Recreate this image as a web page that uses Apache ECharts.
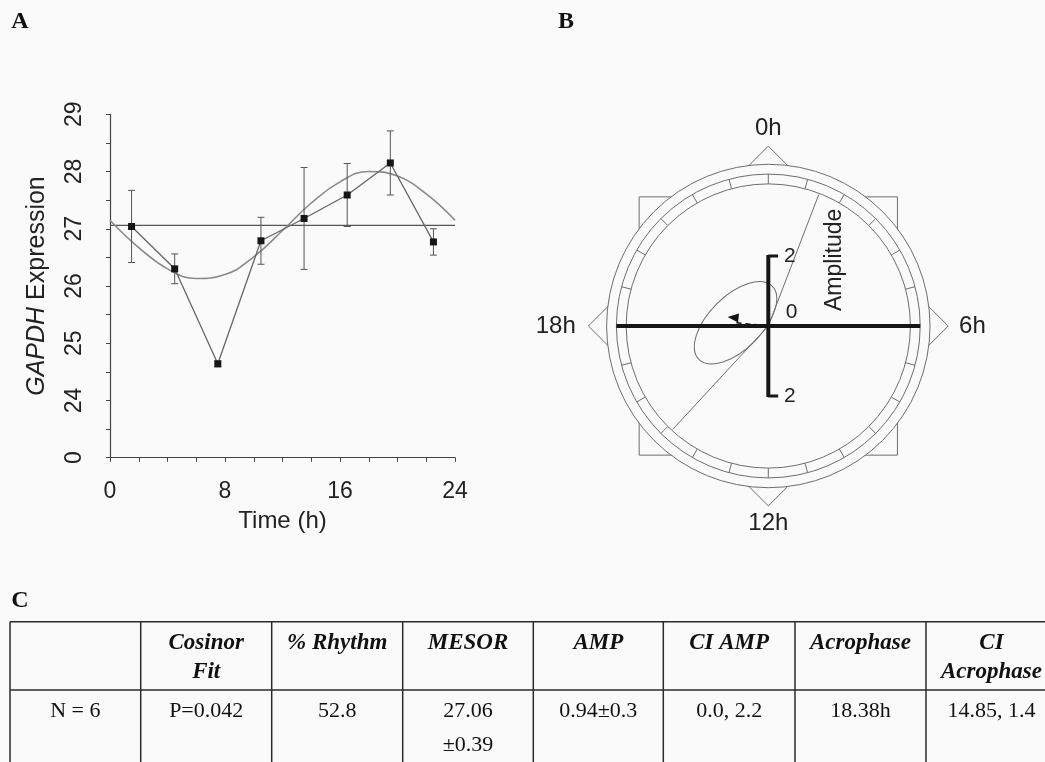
<!DOCTYPE html>
<html><head><meta charset="utf-8">
<script src="https://cdn.jsdelivr.net/npm/echarts@6/dist/echarts.min.js"></script>
<style>html,body{margin:0;padding:0;background:#fafafa}#c{width:1045px;height:762px}</style>
</head><body><div id="c"></div>
<script>
// ---------- Panel A data ----------
const timeHours = [1.5, 4.5, 7.5, 10.5, 13.5, 16.5, 19.5, 22.5];
const gapdhMean = [27.04, 26.30, 24.64, 26.79, 27.18, 27.59, 28.15, 26.77];
const gapdhErr  = [0.63, 0.26, 0.05, 0.41, 0.89, 0.55, 0.56, 0.23];
const fitHours  = [0, 2, 4, 6, 8, 10, 12, 14, 16, 18, 20, 22, 24];
const fitValues = [27.15, 26.67, 26.30, 26.13, 26.20, 26.51, 26.97, 27.45, 27.82, 28.00, 27.92, 27.61, 27.15];
const mesorLine = [[0, 27.06], [24, 27.06]];
const xTickLabels = ['0', '8', '16', '24'];
const yTickLabels = ['0', '24', '25', '26', '27', '28', '29'];

// ---------- Panel B data ----------
const amplitude = 0.94;
const acrophaseH = 18.38;
const ciAcrophaseH = [14.85, 1.4];
const ciEllipse = [1.48, 0.76, 45];   // semi-major, semi-minor (amplitude units), tilt (deg)
const ampScaleLabels = ['2', '0', '2'];
const ampScaleValues = [2, 0, -2];
const clockLabels = ['0h', '6h', '12h', '18h'];
const clockHours = [0, 6, 12, 18];

// ---------- Panel C data ----------
const tableHeader = [['', ''], ['Cosinor', 'Fit'], ['% Rhythm', ''], ['MESOR', ''], ['AMP', ''], ['CI AMP', ''], ['Acrophase', ''], ['CI', 'Acrophase']];
const tableRow = [['N = 6', ''], ['P=0.042', ''], ['52.8', ''], ['27.06', '±0.39'], ['0.94±0.3', ''], ['0.0, 2.2', ''], ['18.38h', ''], ['14.85, 1.4', '']];
const panelLetters = ['A', 'B', 'C'];

// ---------- layout ----------
const BG = '#fafafa';
const INK = '#222';
const SANS = '"Liberation Sans", Arial, sans-serif';
const SERIF = '"Liberation Serif", "Times New Roman", serif';
const colX = [10, 140.7, 271.7, 402.7, 533.3, 663.3, 795, 926, 1057];
const rowY = [621.7, 690, 766];
const headLineY = [643, 672];
const bodyLineY = [711.7, 745];
const letterPos = [[20, 22], [566, 22], [20, 601]];

const chart = echarts.init(document.getElementById('c'), null, {renderer: 'canvas'});

function dialRender(params, api) {
  const P = (x, y) => api.coord([x, y]);
  const u = api.size([1, 0])[0];
  const o = P(0, 0);
  const pol = (h, r) => { const a = h / 24 * 2 * Math.PI; return P(r * Math.sin(a), r * Math.cos(a)); };
  const thin = {stroke: '#6e6e6e', lineWidth: 1, fill: 'none'};
  const ch = [];
  const s = 3.69, d = 5.14;
  ch.push({type: 'polygon', shape: {points: [P(-s, s), P(s, s), P(s, -s), P(-s, -s)]}, style: thin});
  ch.push({type: 'polygon', shape: {points: [P(0, d), P(d, 0), P(0, -d), P(-d, 0)]}, style: thin});
  ch.push({type: 'circle', shape: {cx: o[0], cy: o[1], r: 4.62 * u}, style: {fill: BG, stroke: '#6e6e6e', lineWidth: 1}});
  ch.push({type: 'circle', shape: {cx: o[0], cy: o[1], r: 4.34 * u}, style: thin});
  ch.push({type: 'circle', shape: {cx: o[0], cy: o[1], r: 4.06 * u}, style: thin});
  for (let h = 0; h < 24; h++) {
    const a = pol(h, 4.06), b = pol(h, 4.34);
    ch.push({type: 'line', shape: {x1: a[0], y1: a[1], x2: b[0], y2: b[1]}, style: thin});
  }
  // clock labels
  const lab = [
    {p: pol(clockHours[0], 5.3), align: 'center', va: 'bottom'},
    {p: pol(clockHours[1], 5.45), align: 'left', va: 'middle'},
    {p: pol(clockHours[2], 5.3), align: 'center', va: 'top'},
    {p: pol(clockHours[3], 5.5), align: 'right', va: 'middle'}
  ];
  lab.forEach((l, i) => ch.push({type: 'text', x: l.p[0], y: l.p[1],
    style: {text: clockLabels[i], fill: INK, font: '24px ' + SANS, align: l.align, verticalAlign: l.va}}));
  // CI acrophase rays
  ciAcrophaseH.forEach(h => { const e = pol(h, 4.02);
    ch.push({type: 'line', shape: {x1: o[0], y1: o[1], x2: e[0], y2: e[1]}, style: {stroke: '#6e6e6e', lineWidth: 1}}); });
  // confidence ellipse
  const c = pol(acrophaseH, amplitude);
  ch.push({type: 'ellipse', x: c[0], y: c[1], rotation: ciEllipse[2] * Math.PI / 180,
    shape: {cx: 0, cy: 0, rx: ciEllipse[0] * u, ry: ciEllipse[1] * u}, style: {stroke: '#6e6e6e', lineWidth: 1, fill: 'none'}});
  // vector (amplitude, acrophase)
  const dx = c[0] - o[0], dy = c[1] - o[1], len = Math.hypot(dx, dy);
  const ux = dx / len, uy = dy / len, px = -uy, py = ux;
  ch.push({type: 'line', shape: {x1: o[0], y1: o[1], x2: c[0], y2: c[1]}, style: {stroke: '#111', lineWidth: 1.5, lineDash: [5, 4]}});
  const lift = -5;
  ch.push({type: 'polygon', shape: {points: [[c[0] + ux * 8, c[1] + uy * 8 + lift],
    [c[0] - ux * 3 + px * 4.5, c[1] - uy * 3 + py * 4.5 + lift], [c[0] - ux * 3 - px * 4.5, c[1] - uy * 3 - py * 4.5 + lift]]},
    style: {fill: '#111'}});
  // bold axes
  const L = P(-4.34, 0), R = P(4.34, 0), T = P(0, 2), B = P(0, -2);
  const bold = {stroke: '#161616', lineWidth: 4, lineCap: 'butt'};
  ch.push({type: 'line', shape: {x1: L[0], y1: L[1], x2: R[0], y2: R[1]}, style: bold});
  ch.push({type: 'line', shape: {x1: T[0], y1: T[1] - 1, x2: B[0], y2: B[1] + 1}, style: bold});
  const capT = P(0.28, 2), capB = P(0.28, -2);
  ch.push({type: 'line', shape: {x1: T[0], y1: T[1], x2: capT[0], y2: capT[1]}, style: {stroke: '#161616', lineWidth: 3}});
  ch.push({type: 'line', shape: {x1: B[0], y1: B[1], x2: capB[0], y2: capB[1]}, style: {stroke: '#161616', lineWidth: 3}});
  // amplitude scale labels
  ampScaleValues.forEach((v, i) => { const p = v === 0 ? P(0.5, 0.38) : P(0.45, v);
    ch.push({type: 'text', x: p[0], y: p[1], style: {text: ampScaleLabels[i], fill: INK, font: '21px ' + SANS, align: 'left', verticalAlign: 'middle'}}); });
  const ap = P(1.9, 1.89);
  ch.push({type: 'text', x: ap[0], y: ap[1], rotation: Math.PI / 2,
    style: {text: 'Amplitude', fill: INK, font: '23px ' + SANS, align: 'center', verticalAlign: 'middle'}});
  return {type: 'group', children: ch};
}

function errRender(params, api) {
  const lo = api.coord([api.value(0), api.value(1)]);
  const hi = api.coord([api.value(0), api.value(2)]);
  const w = 3.5, st = {stroke: '#555', lineWidth: 1};
  return {type: 'group', children: [
    {type: 'line', shape: {x1: lo[0], y1: lo[1], x2: hi[0], y2: hi[1]}, style: st},
    {type: 'line', shape: {x1: lo[0] - w, y1: lo[1], x2: lo[0] + w, y2: lo[1]}, style: st},
    {type: 'line', shape: {x1: hi[0] - w, y1: hi[1], x2: hi[0] + w, y2: hi[1]}, style: st}
  ]};
}

// graphic: panel letters + table
const graphic = [];
panelLetters.forEach((t, i) => graphic.push({type: 'text', x: letterPos[i][0], y: letterPos[i][1],
  style: {text: t, fill: '#111', font: 'bold 24px ' + SERIF, align: 'center', verticalAlign: 'middle'}}));
const tStroke = {stroke: '#2b2b2b', lineWidth: 1.5};
colX.forEach(x => graphic.push({type: 'line', shape: {x1: x, y1: rowY[0], x2: x, y2: rowY[2]}, style: tStroke}));
rowY.forEach(y => graphic.push({type: 'line', shape: {x1: colX[0], y1: y, x2: colX[colX.length - 1], y2: y}, style: tStroke}));
tableHeader.forEach((lines, i) => { const cx = (colX[i] + colX[i + 1]) / 2;
  lines.forEach((t, j) => { if (t) graphic.push({type: 'text', x: cx, y: headLineY[j],
    style: {text: t, fill: '#111', font: 'italic bold 23px ' + SERIF, align: 'center', verticalAlign: 'middle'}}); }); });
tableRow.forEach((lines, i) => { const cx = (colX[i] + colX[i + 1]) / 2;
  lines.forEach((t, j) => { if (t) graphic.push({type: 'text', x: cx, y: bodyLineY[j],
    style: {text: t, fill: '#111', font: '22px ' + SERIF, align: 'center', verticalAlign: 'middle'}}); }); });

const option = {
  animation: false,
  backgroundColor: BG,
  grid: [
    {left: 110, top: 114.3, width: 345, height: 343.4, outerBoundsMode: 'none', containLabel: false},
    {left: 558.3, top: 116, width: 420, height: 420, outerBoundsMode: 'none', containLabel: false}
  ],
  xAxis: [
    {gridIndex: 0, type: 'value', min: 0, max: 24, interval: 2,
      axisLine: {onZero: false, lineStyle: {color: '#444', width: 1.2}},
      axisTick: {length: 4, lineStyle: {color: '#444'}},
      axisLabel: {color: INK, fontFamily: SANS, fontSize: 23, margin: 22,
        formatter: v => (v % 8 === 0 ? xTickLabels[v / 8] : '')},
      splitLine: {show: false},
      name: 'Time (h)', nameLocation: 'middle', nameGap: 52,
      nameTextStyle: {color: INK, fontFamily: SANS, fontSize: 24}},
    {gridIndex: 1, type: 'value', min: -6, max: 6, show: false}
  ],
  yAxis: [
    {gridIndex: 0, type: 'value', min: 23, max: 29, interval: 1,
      axisLine: {show: true, lineStyle: {color: '#444', width: 1.2}},
      axisTick: {show: true, length: 4, lineStyle: {color: '#444'}},
      minorTick: {show: true, splitNumber: 2, length: 4, lineStyle: {color: '#444'}},
      axisLabel: {color: INK, fontFamily: SANS, fontSize: 23, rotate: 90, margin: 24,
        formatter: v => yTickLabels[Math.round(v) - 23]},
      splitLine: {show: false},
      name: '{i|GAPDH} Expression', nameLocation: 'middle', nameGap: 60, nameRotate: 90,
      nameTextStyle: {color: INK, fontFamily: SANS, fontSize: 25,
        rich: {i: {fontStyle: 'italic', fontFamily: SANS, fontSize: 25, color: INK}}}},
    {gridIndex: 1, type: 'value', min: -6, max: 6, show: false}
  ],
  series: [
    {type: 'line', xAxisIndex: 0, yAxisIndex: 0, data: mesorLine, symbol: 'none',
      lineStyle: {color: '#555', width: 1.2}, z: 1},
    {type: 'line', xAxisIndex: 0, yAxisIndex: 0, data: fitHours.map((t, i) => [t, fitValues[i]]),
      symbol: 'none', smooth: 0.45, lineStyle: {color: '#8a8a8a', width: 1.6}, z: 2},
    {type: 'custom', xAxisIndex: 0, yAxisIndex: 0, renderItem: errRender, z: 3,
      data: timeHours.map((t, i) => [t, gapdhMean[i] - gapdhErr[i], gapdhMean[i] + gapdhErr[i]])},
    {type: 'line', xAxisIndex: 0, yAxisIndex: 0, data: timeHours.map((t, i) => [t, gapdhMean[i]]),
      symbol: 'rect', symbolSize: 7, itemStyle: {color: '#161616'},
      lineStyle: {color: '#666', width: 1.3}, z: 4},
    {type: 'custom', xAxisIndex: 1, yAxisIndex: 1, renderItem: dialRender, data: [[0, 0]], z: 5, clip: false}
  ],
  graphic: graphic
};
chart.setOption(option);
</script>
</body></html>
